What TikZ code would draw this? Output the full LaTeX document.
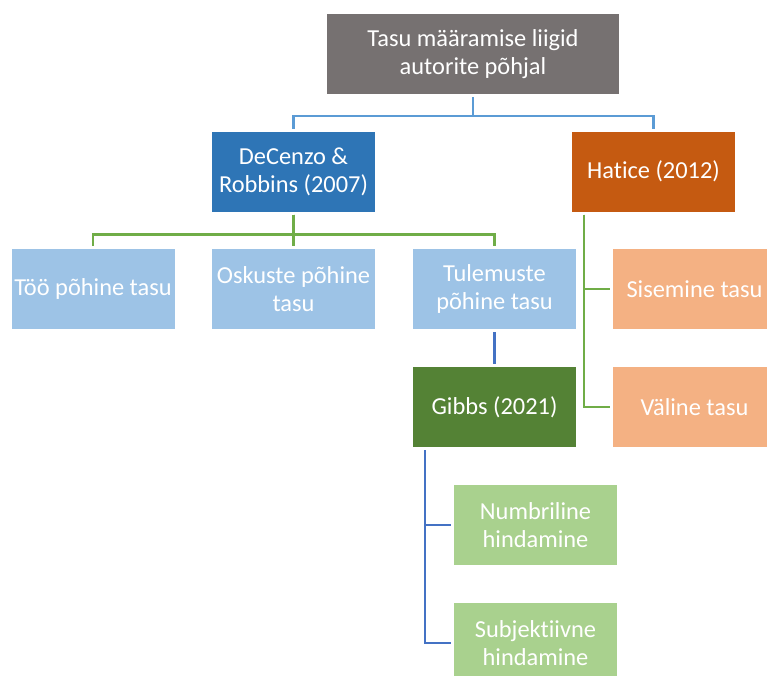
\documentclass[tikz,border=0pt]{standalone}
\usepackage{fontspec}
\setmainfont{Carlito}[Ligatures={NoCommon}]
\usetikzlibrary{calc}
\definecolor{TopGray}{HTML}{767171}
\definecolor{MidBlue}{HTML}{2E75B6}
\definecolor{DarkOrange}{HTML}{C55A11}
\definecolor{PaleBlue}{HTML}{9DC3E6}
\definecolor{PaleOrange}{HTML}{F4B183}
\definecolor{DarkGreen}{HTML}{548235}
\definecolor{PaleGreen}{HTML}{A9D18E}
\definecolor{LineBlue}{HTML}{5B9BD5}
\definecolor{LineGreen}{HTML}{70AD47}
\definecolor{LineNavy}{HTML}{4472C4}

\begin{document}
\begin{tikzpicture}[
    x=0.75pt, y=-0.75pt,
    tasu_box/.style={
        minimum width=122.25pt,
        minimum height=60pt,
        inner sep=2pt,
        outer sep=2.25pt,
        align=center,
        text=white,
        font=\fontsize{18.3}{21}\selectfont
    },
    link_line/.style={
        line width=2.1pt
    }
]
\useasboundingbox (0,0) rectangle (767,675);

% =========================
% LEVEL 0
% =========================
\node[tasu_box, fill=TopGray, minimum width=219pt] (top) at (473,54)
    {Tasu määramise liigid\\autorite põhjal};

% =========================
% LEVEL 1
% =========================
\node[tasu_box, fill=MidBlue] (decenzo) at (293.5,171.5)
    {DeCenzo \&\\Robbins (2007)};
\node[tasu_box, fill=DarkOrange] (hatice) at (653.5,171.5)
    {Hatice (2012)};

% =========================
% LEVEL 2
% =========================
\node[tasu_box, fill=PaleBlue] (too) at (93,289) {Töö põhine tasu};
\node[tasu_box, fill=PaleBlue] (oskuste) at (293.5,289) {Oskuste põhine\\tasu};
\node[tasu_box, fill=PaleBlue] (tulemuste) at (494.5,289) {Tulemuste\\põhine tasu};

\node[tasu_box, fill=PaleOrange] (sisemine) at (694.5,289) {Sisemine tasu};
\node[tasu_box, fill=PaleOrange] (valine) at (694.5,407) {Väline tasu};

% =========================
% LEVEL 3
% =========================
\node[tasu_box, fill=DarkGreen] (gibbs) at (494.5,407) {Gibbs (2021)};
\node[tasu_box, fill=PaleGreen] (numbriline) at (535.5,525) {Numbriline\\hindamine};
\node[tasu_box, fill=PaleGreen] (subjektiivne) at (535.5,643) {Subjektiivne\\hindamine};

% =========================
% CONNECTORS
% =========================
\draw[link_line, LineBlue] (top.south) -- ++(0,19) -| (decenzo.north);
\draw[link_line, LineBlue] (top.south) -- ++(0,19) -| (hatice.north);

\draw[link_line, LineGreen] (decenzo.south) -- ++(0,20) -| (too.north);
\draw[link_line, LineGreen] (decenzo.south) -- (oskuste.north);
\draw[link_line, LineGreen] (decenzo.south) -- ++(0,20) -| (tulemuste.north);

\draw[link_line, LineGreen] ($(hatice.south west)+(15,0)$) |- (sisemine.west);
\draw[link_line, LineGreen] ($(hatice.south west)+(15,0)$) |- (valine.west);

\draw[link_line, LineNavy] (tulemuste.south) -- (gibbs.north);

\draw[link_line, LineNavy] ($(gibbs.south west)+(15,0)$) |- (numbriline.west);
\draw[link_line, LineNavy] ($(gibbs.south west)+(15,0)$) |- (subjektiivne.west);

\end{tikzpicture}
\end{document}
